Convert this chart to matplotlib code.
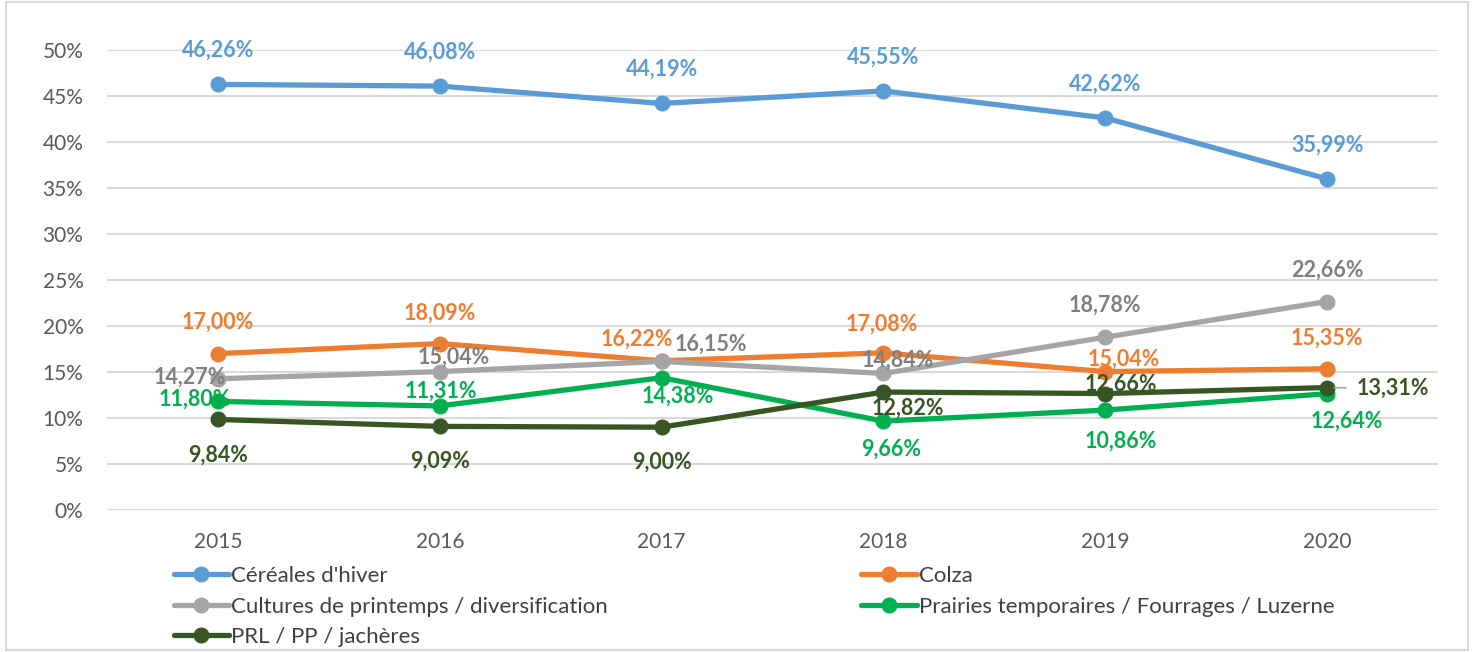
import matplotlib
matplotlib.use("Agg")
import matplotlib.pyplot as plt
from matplotlib.patches import Rectangle

plt.rcParams['font.family'] = ['Lato', 'DejaVu Sans']

years = ["2015", "2016", "2017", "2018", "2019", "2020"]
cereales = [46.26, 46.08, 44.19, 45.55, 42.62, 35.99]
colza = [17.00, 18.09, 16.22, 17.08, 15.04, 15.35]
cultures = [14.27, 15.04, 16.15, 14.84, 18.78, 22.66]
prairies = [11.80, 11.31, 14.38, 9.66, 10.86, 12.64]
prl = [9.84, 9.09, 9.00, 12.82, 12.66, 13.31]

series = [
    ("Céréales d'hiver", cereales, "#5B9BD5", "#5B9BD5"),
    ("Colza", colza, "#ED7D31", "#ED7D31"),
    ("Cultures de printemps / diversification", cultures, "#A5A5A5", "#7F7F7F"),
    ("Prairies temporaires / Fourrages / Luzerne", prairies, "#00B050", "#00B050"),
    ("PRL / PP / jachères", prl, "#375623", "#375623"),
]

# label offsets in pixels (dx, dy), placed like Excel did
offsets = {
    "Céréales d'hiver": [(0, 34)] * 6,
    "Colza": [(0, 31), (0, 30), (-25, 22), (-2, 29), (18, 12), (0, 31)],
    "Cultures de printemps / diversification": [(-28, 2), (14, 14), (49, 17), (14, 13), (0, 32), (0, 31)],
    "Prairies temporaires / Fourrages / Luzerne": [(-23, 2), (1, 15), (16, -19), (8, -28), (16, -31), (20, -27)],
    "PRL / PP / jachères": [(0, -36), (0, -35), (0, -35), (24, -16), (16, 9), (0, 0)],
}

fig = plt.figure(figsize=(14.72, 6.52), dpi=100)
fig.patches.append(Rectangle((0.004, 0.003), 0.993, 0.994, transform=fig.transFigure,
                             fill=False, edgecolor="#D9D9D9", linewidth=1.5))
ax = fig.add_axes([0.0727, 0.2178, 0.9042, 0.7055])

x = list(range(len(years)))
handles = []
for name, vals, col, lcol in series:
    h, = ax.plot(x, vals, color=col, linewidth=3.8, marker="o", markersize=10.5, label=name,
                 solid_capstyle="round", zorder=3)
    handles.append(h)
    for i, v in enumerate(vals):
        dx, dy = offsets[name][i]
        txt = f"{v:.2f}%".replace(".", ",")
        if name == "PRL / PP / jachères" and i == 5:
            ax.annotate(txt, (x[i], v), xytext=(30, -1), textcoords="offset pixels",
                        color=lcol, fontsize=15.5, fontweight="bold", ha="left", va="center",
                        arrowprops=dict(arrowstyle="-", color="#A5A5A5", lw=1.2,
                                        shrinkA=6, shrinkB=5))
        else:
            ax.annotate(txt, (x[i], v), xytext=(dx, dy), textcoords="offset pixels",
                        color=lcol, fontsize=15.5, fontweight="bold", ha="center", va="center",
                        zorder=4)

ax.set_xlim(-0.5, 5.5)
ax.set_ylim(0, 50)
ax.set_yticks(range(0, 51, 5))
ax.set_yticklabels([f"{t}%" for t in range(0, 51, 5)])
ax.set_xticks(x)
ax.set_xticklabels(years)
ax.grid(axis="y", color="#D9D9D9", linewidth=1.5)
ax.set_axisbelow(True)
for s in ax.spines.values():
    s.set_visible(False)
ax.tick_params(length=0, labelsize=15, colors="#595959")
ax.tick_params(axis="y", pad=17)
ax.tick_params(axis="x", pad=16)

# row-major order like Excel: legend fills columns, so reorder
order = [0, 2, 4, 1, 3]
leg = fig.legend([handles[i] for i in order], [series[i][0] for i in order],
                 loc="upper left", bbox_to_anchor=(0.118, 0.132), ncol=2, frameon=False,
                 fontsize=16, handlelength=2.5, handletextpad=0.1, columnspacing=11.38,
                 labelspacing=0.48, borderpad=0, borderaxespad=0)
for t in leg.get_texts():
    t.set_color("#404040")

fig.savefig("out.png", dpi=100)
